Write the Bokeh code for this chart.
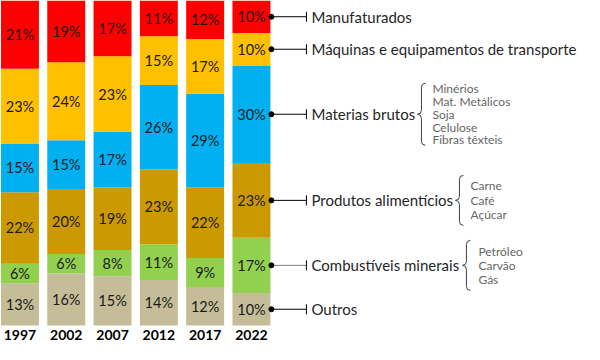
from bokeh.plotting import figure
from bokeh.models import ColumnDataSource, Range1d
from bokeh.core.properties import value
from bokeh.embed import file_html
from bokeh.resources import INLINE

# ---- data -------------------------------------------------------------
years = ["1997", "2002", "2007", "2012", "2017", "2022"]
# stacked from bottom to top
categories = ["Outros", "Combustíveis minerais", "Produtos alimentícios",
              "Materias brutos", "Máquinas e equipamentos de transporte",
              "Manufaturados"]
outros = [13, 16, 15, 14, 12, 10]
combustiveis = [6, 6, 8, 11, 9, 17]
alimenticios = [22, 20, 19, 23, 22, 23]
brutos = [15, 15, 17, 26, 29, 30]
maquinas = [23, 24, 23, 15, 17, 10]
manufaturados = [21, 19, 17, 11, 12, 10]
series = [outros, combustiveis, alimenticios, brutos, maquinas, manufaturados]
colors = ["#C4BD97", "#92D050", "#CC9900", "#00B0F0", "#FFC000", "#FF0000"]

brutos_items = ["Minérios", "Mat. Metálicos", "Soja", "Celulose", "Fibras têxteis"]
alimenticios_items = ["Carne", "Café", "Açúcar"]
combustiveis_items = ["Petróleo", "Carvão", "Gás"]

# ---- layout constants (pixels) ----------------------------------------
W, H = 584, 344
BAR_W = 0.82
X0 = -0.42
PX = 46.3                # pixels per x unit
Y0 = -5.85
YPX = H / (100 - Y0)     # pixels per y unit

def dx(px):
    return px / PX

def dy(px):
    return px / YPX

FONT = value("Lato")

p = figure(width=W, height=H, x_range=Range1d(X0, X0 + W / PX),
           y_range=Range1d(Y0, 100), output_backend="svg",
           toolbar_location=None, min_border=0)
p.axis.visible = False
p.grid.visible = False
p.outline_line_color = None
p.background_fill_color = "white"

# ---- normalized shares --------------------------------------------------
n = len(years)
totals = [sum(s[i] for s in series) for i in range(n)]
xs = list(range(n))
data = {"x": xs, "year": years}
keys = []
for k, s in enumerate(series):
    key = "s%d" % k
    keys.append(key)
    data[key] = [s[i] / totals[i] * 100 for i in range(n)]
src = ColumnDataSource(data)
p.vbar_stack(keys, x="x", width=BAR_W, color=colors, source=src, line_color=None)

# percent labels
lx, ly, lt = [], [], []
mids_last = []
for i in range(n):
    bottom = 0.0
    for k, s in enumerate(series):
        h = data[keys[k]][i]
        lx.append(i)
        ly.append(bottom + h / 2)
        lt.append("%d%%" % s[i])
        if i == n - 1:
            mids_last.append(bottom + h / 2)
        bottom += h
p.text(x=lx, y=ly, text=lt, text_font=FONT, text_font_size="14.5px",
       text_align="center", text_baseline="middle", text_color="#1a1a1a")

# year labels
p.text(x=xs, y=[dy(-10)] * n, text=years, text_font=FONT, text_font_size="14px",
       text_font_style="bold", text_align="center", text_baseline="middle",
       text_color="#000000")

# ---- annotations on the right ------------------------------------------
edge = (n - 1) + BAR_W / 2
x_dot = edge + dx(1)
x_tick = edge + dx(36)
x_text = edge + dx(41)
line_colors = ["#000000", "#7f7f7f", "#000000", "#000000", "#000000", "#000000"]
p.segment(x0=[x_dot] * len(mids_last), x1=[x_tick] * len(mids_last),
          y0=mids_last, y1=mids_last, line_color=line_colors, line_width=1)
p.segment(x0=[x_tick] * len(mids_last), x1=[x_tick] * len(mids_last),
          y0=[m - dy(5) for m in mids_last], y1=[m + dy(5) for m in mids_last],
          line_color="#000000", line_width=1)
p.scatter(x=[x_dot] * len(mids_last), y=mids_last, size=5, color="#000000")
p.text(x=[x_text] * len(categories), y=mids_last, text=categories, text_font=FONT,
       text_font_size="15px", text_align="left", text_baseline="middle",
       text_color="#262626")

def dx_(px_from_text):
    return x_text + dx(px_from_text)

def brace(xr, ym, half_h, w=8):
    xm = xr - w / 2
    xl = xr - w
    r = w / 2
    top = ym + dy(half_h)
    bot = ym - dy(half_h)
    kw = dict(line_color="#404040", line_width=1)
    p.quadratic(x0=[dx_(xr)], y0=[top], x1=[dx_(xm)], y1=[top - dy(r)],
                cx=[dx_(xm)], cy=[top], **kw)
    p.segment(x0=[dx_(xm)], y0=[top - dy(r)], x1=[dx_(xm)], y1=[ym + dy(r)], **kw)
    p.quadratic(x0=[dx_(xm)], y0=[ym + dy(r)], x1=[dx_(xl)], y1=[ym],
                cx=[dx_(xm)], cy=[ym], **kw)
    p.quadratic(x0=[dx_(xl)], y0=[ym], x1=[dx_(xm)], y1=[ym - dy(r)],
                cx=[dx_(xm)], cy=[ym], **kw)
    p.segment(x0=[dx_(xm)], y0=[ym - dy(r)], x1=[dx_(xm)], y1=[bot + dy(r)], **kw)
    p.quadratic(x0=[dx_(xm)], y0=[bot + dy(r)], x1=[dx_(xr)], y1=[bot],
                cx=[dx_(xm)], cy=[bot], **kw)

groups = [
    (categories.index("Materias brutos"), brutos_items, 12.8, 31, 114, 121),
    (categories.index("Produtos alimentícios"), alimenticios_items, 14.5, 25, 152, 159),
    (categories.index("Combustíveis minerais"), combustiveis_items, 14.0, 25, 159, 167),
]
for idx, items, step, half_h, brace_x, item_x in groups:
    ym = mids_last[idx]
    m = len(items)
    iy = [ym + dy(step * ((m - 1) / 2 - j)) for j in range(m)]
    p.text(x=[dx_(item_x)] * m, y=iy, text=items, text_font=FONT,
           text_font_size="12px", text_align="left", text_baseline="middle",
           text_color="#666666")
    brace(brace_x, ym, half_h)

open("out.html", "w").write(file_html(p, INLINE))
